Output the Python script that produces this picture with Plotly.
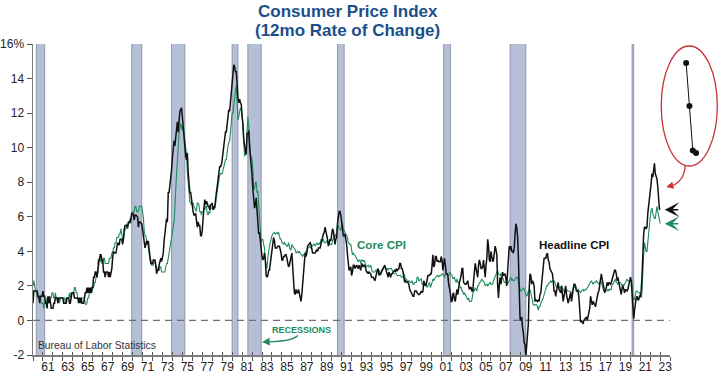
import plotly.graph_objects as go

# ---------------- data (monthly, Jan 1960 .. Jan 2023) ----------------
start_year = 1960

headline_cpi = [
    1.0, 1.7, 1.7, 1.7, 1.7, 1.7, 1.4, 1.4, 1.0, 1.4, 1.4, 1.4,   # 1960
    1.7, 1.4, 1.4, 1.0, 1.0, 0.7, 1.4, 1.0, 1.4, 1.0, 0.7, 0.7,   # 1961
    0.7, 1.0, 1.0, 1.3, 1.3, 1.3, 1.0, 1.3, 1.3, 1.3, 1.3, 1.3,   # 1962
    1.3, 1.0, 1.0, 1.0, 1.0, 1.3, 1.3, 1.3, 1.0, 1.0, 1.3, 1.6,   # 1963
    1.6, 1.6, 1.3, 1.3, 1.3, 1.3, 1.3, 1.0, 1.3, 1.0, 1.3, 1.0,   # 1964
    1.0, 1.0, 1.3, 1.6, 1.6, 1.9, 1.6, 1.9, 1.6, 1.9, 1.6, 1.9,   # 1965
    1.9, 2.5, 2.5, 2.8, 2.8, 2.5, 2.8, 3.5, 3.5, 3.8, 3.8, 3.5,   # 1966
    3.5, 2.8, 2.8, 2.5, 2.8, 2.8, 2.8, 2.5, 2.8, 2.5, 2.7, 3.0,   # 1967
    3.6, 4.0, 3.9, 3.9, 3.9, 4.2, 4.5, 4.4, 4.4, 4.7, 4.7, 4.7,   # 1968
    4.4, 4.7, 5.3, 5.5, 5.5, 5.5, 5.4, 5.7, 5.7, 5.7, 5.9, 6.2,   # 1969
    6.2, 6.1, 5.8, 6.1, 6.1, 6.0, 6.0, 5.4, 5.7, 5.7, 5.6, 5.6,   # 1970
    5.3, 5.0, 4.7, 4.2, 4.4, 4.6, 4.4, 4.6, 4.1, 3.8, 3.3, 3.3,   # 1971
    3.3, 3.5, 3.5, 3.5, 3.2, 2.7, 2.9, 2.9, 3.2, 3.4, 3.6, 3.4,   # 1972
    3.6, 3.9, 4.6, 5.1, 5.5, 5.9, 5.7, 7.4, 7.4, 7.8, 8.3, 8.7,   # 1973
    9.4, 10.0, 10.4, 10.1, 10.7, 10.9, 11.5, 10.9, 11.9, 12.1, 12.2, 12.3,  # 1974
    11.8, 11.2, 10.3, 10.2, 9.5, 9.3, 9.7, 8.6, 7.9, 7.4, 7.4, 6.9,  # 1975
    6.7, 6.3, 6.1, 6.1, 6.2, 5.9, 5.4, 5.7, 5.5, 5.5, 4.9, 4.9,   # 1976
    5.2, 5.9, 6.4, 7.0, 6.7, 6.9, 6.8, 6.6, 6.6, 6.4, 6.7, 6.7,   # 1977
    6.8, 6.4, 6.6, 6.5, 7.0, 7.4, 7.7, 7.9, 8.3, 8.9, 8.9, 9.0,   # 1978
    9.3, 9.9, 10.1, 10.5, 10.9, 10.9, 11.3, 11.8, 12.2, 12.1, 12.6, 13.3,  # 1979
    13.9, 14.2, 14.8, 14.7, 14.4, 14.4, 13.1, 12.9, 12.6, 12.8, 12.6, 12.5,  # 1980
    11.8, 11.4, 10.5, 10.0, 9.8, 9.6, 10.8, 10.8, 11.0, 10.1, 9.6, 8.9,  # 1981
    8.4, 7.6, 6.8, 6.5, 6.7, 7.1, 6.4, 5.9, 5.0, 5.1, 4.6, 3.8,   # 1982
    3.7, 3.5, 3.6, 3.9, 3.5, 2.6, 2.5, 2.6, 2.9, 2.9, 3.3, 3.8,   # 1983
    4.2, 4.6, 4.8, 4.6, 4.2, 4.2, 4.2, 4.3, 4.3, 4.3, 4.1, 3.9,   # 1984
    3.5, 3.5, 3.7, 3.7, 3.8, 3.8, 3.6, 3.3, 3.1, 3.2, 3.5, 3.8,   # 1985
    3.9, 3.1, 2.3, 1.6, 1.5, 1.8, 1.6, 1.6, 1.8, 1.5, 1.3, 1.1,   # 1986
    1.5, 2.1, 3.0, 3.8, 3.9, 3.7, 3.9, 4.3, 4.4, 4.5, 4.5, 4.4,   # 1987
    4.0, 3.9, 3.9, 3.9, 3.9, 4.0, 4.1, 4.0, 4.2, 4.2, 4.2, 4.4,   # 1988
    4.7, 4.8, 5.0, 5.1, 5.4, 5.2, 5.0, 4.7, 4.3, 4.5, 4.7, 4.6,   # 1989
    5.2, 5.3, 5.2, 4.7, 4.4, 4.7, 4.8, 5.6, 6.2, 6.3, 6.3, 6.1,   # 1990
    5.7, 5.3, 4.9, 4.9, 5.0, 4.7, 4.4, 3.8, 3.4, 2.9, 3.0, 3.1,   # 1991
    2.6, 2.8, 3.2, 3.2, 3.0, 3.1, 3.2, 3.1, 3.0, 3.2, 3.0, 2.9,   # 1992
    3.3, 3.2, 3.1, 3.2, 3.2, 3.0, 2.8, 2.8, 2.7, 2.8, 2.7, 2.7,   # 1993
    2.5, 2.5, 2.5, 2.4, 2.3, 2.5, 2.8, 2.9, 3.0, 2.6, 2.7, 2.7,   # 1994
    2.8, 2.9, 2.9, 3.1, 3.2, 3.0, 2.8, 2.6, 2.5, 2.8, 2.6, 2.5,   # 1995
    2.7, 2.7, 2.8, 2.9, 2.9, 2.8, 3.0, 2.9, 3.0, 3.0, 3.3, 3.3,   # 1996
    3.0, 3.0, 2.8, 2.5, 2.2, 2.3, 2.2, 2.2, 2.2, 2.1, 1.8, 1.7,   # 1997
    1.6, 1.4, 1.4, 1.4, 1.7, 1.7, 1.7, 1.6, 1.5, 1.5, 1.5, 1.6,   # 1998
    1.7, 1.6, 1.7, 2.3, 2.1, 2.0, 2.1, 2.3, 2.6, 2.6, 2.6, 2.7,   # 1999
    2.7, 3.2, 3.8, 3.1, 3.2, 3.7, 3.7, 3.4, 3.5, 3.4, 3.4, 3.4,   # 2000
    3.7, 3.5, 2.9, 3.3, 3.6, 3.2, 2.7, 2.7, 2.6, 2.1, 1.9, 1.6,   # 2001
    1.1, 1.1, 1.5, 1.6, 1.2, 1.1, 1.5, 1.8, 1.5, 2.0, 2.2, 2.4,   # 2002
    2.6, 3.0, 3.0, 2.2, 2.1, 2.1, 2.1, 2.2, 2.3, 2.0, 1.8, 1.9,   # 2003
    1.9, 1.7, 1.7, 2.3, 3.1, 3.3, 3.0, 2.7, 2.5, 3.2, 3.5, 3.3,   # 2004
    3.0, 3.0, 3.1, 3.5, 2.8, 2.5, 3.2, 3.6, 4.7, 4.3, 3.5, 3.4,   # 2005
    4.0, 3.6, 3.4, 3.5, 4.2, 4.3, 4.1, 3.8, 2.1, 1.3, 2.0, 2.5,   # 2006
    2.1, 2.4, 2.8, 2.6, 2.7, 2.7, 2.4, 2.0, 2.8, 3.5, 4.3, 4.1,   # 2007
    4.3, 4.0, 4.0, 3.9, 4.2, 5.0, 5.6, 5.4, 4.9, 3.7, 1.1, 0.1,   # 2008
    0.0, 0.2, -0.4, -0.7, -1.3, -1.4, -2.1, -1.5, -1.3, -0.2, 1.8, 2.7,  # 2009
    2.6, 2.1, 2.3, 2.2, 2.0, 1.1, 1.2, 1.1, 1.1, 1.2, 1.1, 1.5,   # 2010
    1.6, 2.1, 2.7, 3.2, 3.6, 3.6, 3.6, 3.8, 3.9, 3.5, 3.4, 3.0,   # 2011
    2.9, 2.9, 2.7, 2.3, 1.7, 1.7, 1.4, 1.7, 2.0, 2.2, 1.8, 1.7,   # 2012
    1.6, 2.0, 1.5, 1.1, 1.4, 1.8, 2.0, 1.5, 1.2, 1.0, 1.2, 1.5,   # 2013
    1.6, 1.1, 1.5, 2.0, 2.1, 2.1, 2.0, 1.7, 1.7, 1.7, 1.3, 0.8,   # 2014
    -0.1, 0.0, -0.1, -0.2, 0.0, 0.1, 0.2, 0.2, 0.0, 0.2, 0.5, 0.7,  # 2015
    1.4, 1.0, 0.9, 1.1, 1.0, 1.0, 0.8, 1.1, 1.5, 1.6, 1.7, 2.1,   # 2016
    2.5, 2.7, 2.4, 2.2, 1.9, 1.6, 1.7, 1.9, 2.2, 2.0, 2.2, 2.1,   # 2017
    2.1, 2.2, 2.4, 2.5, 2.8, 2.9, 2.9, 2.7, 2.3, 2.5, 2.2, 1.9,   # 2018
    1.6, 1.5, 1.9, 2.0, 1.8, 1.6, 1.8, 1.7, 1.7, 1.8, 2.1, 2.3,   # 2019
    2.5, 2.3, 1.5, 0.3, 0.1, 0.6, 1.0, 1.3, 1.4, 1.2, 1.2, 1.4,   # 2020
    1.4, 1.7, 2.6, 4.2, 5.0, 5.4, 5.4, 5.3, 5.4, 6.2, 6.8, 7.0,   # 2021
    7.5, 7.9, 8.5, 8.3, 8.6, 9.1, 8.5, 8.3, 8.2, 7.75, 7.11, 6.45,  # 2022
    6.41,                                                        # 2023
]

core_cpi = [
    2.0, 2.3, 2.0, 1.7, 1.7, 1.3, 1.3, 1.3, 1.3, 1.3, 1.0, 1.0,   # 1960
    1.0, 0.7, 1.0, 1.0, 1.0, 1.3, 1.3, 1.0, 1.3, 1.3, 1.3, 1.6,   # 1961
    1.6, 1.3, 1.3, 1.6, 1.3, 1.3, 1.0, 1.3, 1.0, 1.3, 1.3, 1.3,   # 1962
    1.3, 1.3, 1.3, 1.0, 1.3, 1.3, 1.3, 1.3, 1.6, 1.3, 1.6, 1.6,   # 1963
    1.6, 1.6, 1.9, 1.9, 1.6, 1.6, 1.3, 1.3, 1.3, 1.3, 1.3, 1.3,   # 1964
    1.3, 1.3, 1.3, 1.0, 0.9, 1.0, 1.3, 1.3, 1.6, 1.6, 1.6, 1.6,   # 1965
    1.9, 1.9, 2.2, 2.2, 2.5, 2.5, 2.8, 3.1, 3.4, 3.4, 3.6, 3.3,   # 1966
    3.3, 3.6, 3.6, 3.3, 3.3, 3.3, 3.3, 3.3, 3.6, 3.6, 3.6, 3.9,   # 1967
    3.9, 4.2, 4.2, 4.5, 4.5, 4.8, 4.8, 4.8, 5.0, 5.0, 5.3, 5.0,   # 1968
    4.7, 4.7, 5.0, 5.3, 5.3, 5.6, 5.3, 5.6, 5.6, 5.9, 5.6, 6.1,   # 1969
    6.1, 6.3, 6.3, 6.6, 6.6, 6.3, 6.3, 6.3, 6.6, 6.6, 6.6, 6.6,   # 1970
    6.3, 6.0, 5.2, 4.9, 4.9, 4.6, 4.6, 4.3, 3.8, 3.5, 3.5, 3.2,   # 1971
    3.2, 3.2, 3.4, 3.4, 3.1, 3.1, 2.9, 2.9, 2.9, 3.1, 3.1, 2.8,   # 1972
    2.8, 2.8, 2.8, 2.8, 3.1, 3.3, 3.3, 3.6, 3.8, 4.1, 4.3, 4.6,   # 1973
    5.0, 5.3, 5.7, 6.5, 7.8, 8.5, 9.2, 10.3, 10.8, 11.1, 11.4, 11.2,  # 1974
    11.0, 11.3, 10.9, 10.4, 9.9, 9.6, 8.6, 7.8, 7.3, 6.9, 6.8, 6.7,  # 1975
    6.8, 6.8, 6.6, 6.5, 6.4, 6.3, 6.8, 6.8, 6.7, 6.3, 6.3, 6.1,   # 1976
    6.3, 6.3, 6.5, 6.4, 6.6, 6.6, 6.2, 6.1, 6.3, 6.2, 6.5, 6.5,   # 1977
    6.5, 6.5, 6.4, 6.6, 6.7, 7.1, 7.5, 7.8, 8.0, 8.4, 8.5, 8.5,   # 1978
    8.5, 8.7, 8.9, 9.1, 9.3, 9.3, 9.8, 10.1, 10.3, 10.4, 10.9, 11.3,  # 1979
    12.0, 12.0, 12.6, 12.9, 13.3, 13.6, 12.3, 11.6, 11.8, 12.2, 12.3, 12.2,  # 1980
    11.9, 11.2, 10.0, 9.5, 9.6, 9.8, 11.0, 11.8, 11.3, 10.3, 9.5, 9.5,  # 1981
    9.3, 8.8, 7.6, 7.6, 8.0, 8.0, 7.4, 7.5, 6.3, 5.9, 5.3, 4.5,   # 1982
    4.7, 4.7, 4.4, 4.2, 3.5, 3.3, 3.0, 3.6, 4.1, 4.3, 4.5, 4.8,   # 1983
    4.9, 5.0, 5.1, 5.1, 5.0, 5.1, 5.1, 5.0, 5.1, 4.9, 4.7, 4.7,   # 1984
    4.5, 4.5, 4.4, 4.5, 4.4, 4.4, 4.3, 4.3, 4.5, 4.3, 4.1, 4.1,   # 1985
    4.4, 4.3, 4.2, 4.1, 4.1, 3.9, 4.0, 4.0, 3.9, 4.0, 3.9, 3.8,   # 1986
    3.8, 3.7, 3.8, 3.9, 4.0, 4.0, 4.0, 4.2, 4.2, 4.3, 4.3, 4.2,   # 1987
    4.3, 4.4, 4.4, 4.4, 4.3, 4.4, 4.5, 4.4, 4.4, 4.5, 4.4, 4.7,   # 1988
    4.6, 4.6, 4.7, 4.5, 4.5, 4.5, 4.6, 4.5, 4.4, 4.4, 4.4, 4.4,   # 1989
    4.4, 4.6, 4.8, 4.9, 4.8, 5.0, 5.0, 5.5, 5.5, 5.3, 5.3, 5.2,   # 1990
    5.6, 5.6, 5.3, 5.2, 5.2, 5.0, 4.9, 4.8, 4.5, 4.4, 4.4, 4.4,   # 1991
    3.9, 3.8, 3.9, 3.8, 3.7, 3.7, 3.6, 3.5, 3.4, 3.5, 3.5, 3.3,   # 1992
    3.5, 3.5, 3.4, 3.5, 3.3, 3.2, 3.1, 3.2, 3.2, 3.1, 3.1, 3.2,   # 1993
    2.9, 2.8, 2.8, 2.8, 2.8, 2.9, 2.9, 2.9, 2.8, 2.9, 2.8, 2.6,   # 1994
    2.9, 3.0, 3.0, 3.1, 3.1, 3.0, 3.0, 3.0, 2.9, 3.0, 3.0, 3.0,   # 1995
    3.0, 2.9, 2.8, 2.7, 2.7, 2.7, 2.7, 2.6, 2.6, 2.6, 2.6, 2.6,   # 1996
    2.5, 2.5, 2.5, 2.7, 2.5, 2.4, 2.4, 2.3, 2.2, 2.3, 2.2, 2.2,   # 1997
    2.2, 2.3, 2.1, 2.1, 2.2, 2.2, 2.2, 2.5, 2.5, 2.3, 2.3, 2.4,   # 1998
    2.4, 2.1, 2.1, 2.2, 2.0, 2.1, 2.1, 1.9, 2.0, 2.1, 2.2, 1.9,   # 1999
    2.0, 2.2, 2.4, 2.3, 2.4, 2.5, 2.5, 2.6, 2.6, 2.5, 2.6, 2.6,   # 2000
    2.6, 2.7, 2.7, 2.6, 2.5, 2.7, 2.7, 2.7, 2.6, 2.6, 2.8, 2.7,   # 2001
    2.6, 2.6, 2.4, 2.5, 2.5, 2.3, 2.2, 2.4, 2.2, 2.2, 2.0, 1.9,   # 2002
    1.9, 1.7, 1.7, 1.5, 1.6, 1.5, 1.5, 1.3, 1.2, 1.3, 1.1, 1.1,   # 2003
    1.1, 1.2, 1.6, 1.8, 1.7, 1.9, 1.8, 1.7, 2.0, 2.0, 2.2, 2.2,   # 2004
    2.3, 2.4, 2.3, 2.2, 2.2, 2.0, 2.1, 2.1, 2.0, 2.1, 2.1, 2.2,   # 2005
    2.1, 2.1, 2.1, 2.3, 2.4, 2.6, 2.7, 2.8, 2.9, 2.7, 2.6, 2.6,   # 2006
    2.7, 2.7, 2.5, 2.3, 2.2, 2.2, 2.2, 2.1, 2.1, 2.2, 2.3, 2.4,   # 2007
    2.5, 2.3, 2.4, 2.3, 2.3, 2.4, 2.5, 2.5, 2.5, 2.2, 2.0, 1.8,   # 2008
    1.7, 1.8, 1.8, 1.9, 1.8, 1.7, 1.5, 1.4, 1.5, 1.7, 1.7, 1.8,   # 2009
    1.6, 1.3, 1.1, 0.9, 0.9, 0.9, 0.9, 0.9, 0.8, 0.6, 0.8, 0.8,   # 2010
    1.0, 1.1, 1.2, 1.3, 1.5, 1.6, 1.8, 2.0, 2.0, 2.1, 2.2, 2.2,   # 2011
    2.3, 2.2, 2.3, 2.3, 2.3, 2.2, 2.1, 1.9, 2.0, 2.0, 1.9, 1.9,   # 2012
    1.9, 2.0, 1.9, 1.7, 1.7, 1.6, 1.7, 1.8, 1.7, 1.7, 1.7, 1.7,   # 2013
    1.6, 1.6, 1.7, 1.8, 2.0, 1.9, 1.9, 1.7, 1.7, 1.8, 1.7, 1.6,   # 2014
    1.6, 1.7, 1.8, 1.8, 1.7, 1.8, 1.8, 1.8, 1.9, 1.9, 2.0, 2.1,   # 2015
    2.2, 2.3, 2.2, 2.1, 2.2, 2.2, 2.2, 2.3, 2.2, 2.1, 2.1, 2.2,   # 2016
    2.3, 2.2, 2.0, 1.9, 1.7, 1.7, 1.7, 1.7, 1.7, 1.8, 1.7, 1.8,   # 2017
    1.8, 1.8, 2.1, 2.1, 2.2, 2.3, 2.4, 2.2, 2.2, 2.1, 2.2, 2.2,   # 2018
    2.2, 2.1, 2.0, 2.1, 2.0, 2.1, 2.2, 2.4, 2.4, 2.3, 2.3, 2.3,   # 2019
    2.3, 2.4, 2.1, 1.4, 1.2, 1.2, 1.6, 1.7, 1.7, 1.6, 1.6, 1.6,   # 2020
    1.4, 1.3, 1.6, 3.0, 3.8, 4.5, 4.3, 4.0, 4.0, 4.6, 4.9, 5.5,   # 2021
    6.0, 6.4, 6.5, 6.2, 6.0, 5.9, 5.9, 6.3, 6.6, 6.3, 6.0, 5.7,   # 2022
    5.6,                                                         # 2023
]

recession_start = [1960.33, 1969.92, 1973.92, 1980.00, 1981.58, 1990.58, 2001.25, 2007.92, 2020.17]
recession_end   = [1961.17, 1970.92, 1975.25, 1980.58, 1982.92, 1991.25, 2001.92, 2009.50, 2020.33]

x_min, x_max = 1960, 2024
y_ticks = [-2, 0, 2, 4, 6, 8, 10, 12, 14, 16]
y_ticktext = ["-2", "0", "2", "4", "6", "8", "10", "12", "14", "16%"]
label_years = list(range(1961, 2024, 2))
x_ticktext = [f"{y % 100:02d}" for y in label_years]
inset_count = 4  # last months shown in the inset

# ---------------- geometry helpers (layout only) ----------------
W, H = 720, 374
ML, MT, MB = 32, 44, 19
PW, PH = W - ML, H - MT - MB


def px(x):   # page pixel x -> paper fraction
    return (x - ML) / PW


def py(y):   # page pixel y -> paper fraction
    return (H - MB - y) / PH


months_h = [start_year + i / 12 for i in range(len(headline_cpi))]
months_c = [start_year + i / 12 for i in range(len(core_cpi))]

BLUE = "#1b4f8a"
GREEN = "#1f8c5c"
RED = "#c8323c"
FONT = "Liberation Sans, Arial, Helvetica, sans-serif"

fig = go.Figure()
fig.add_trace(go.Scatter(x=months_c, y=core_cpi, mode="lines",
                         line=dict(color=GREEN, width=1.1), hoverinfo="skip", showlegend=False))
fig.add_trace(go.Scatter(x=months_h, y=headline_cpi, mode="lines",
                         line=dict(color="#111111", width=1.5), hoverinfo="skip", showlegend=False))
# dummy trace for overlay tick axis
fig.add_trace(go.Scatter(x=[None], y=[None], xaxis="x4", yaxis="y", showlegend=False, hoverinfo="skip"))
# inset: last few headline readings
fig.add_trace(go.Scatter(x=list(range(inset_count)), y=headline_cpi[-inset_count:],
                         mode="lines+markers", xaxis="x3", yaxis="y3",
                         line=dict(color="#111111", width=1),
                         marker=dict(color="#111111", size=6), showlegend=False, hoverinfo="skip"))

shapes = []
for s, e in zip(recession_start, recession_end):
    shapes.append(dict(type="rect", xref="x", yref="paper", x0=s, x1=e, y0=0, y1=1,
                       fillcolor="#b5c0d7", line=dict(width=0), layer="below"))
    for xv in (s, e):
        shapes.append(dict(type="line", xref="x", yref="paper", x0=xv, x1=xv, y0=0, y1=1,
                           line=dict(color="#8e97ab", width=1), layer="below"))
shapes.append(dict(type="line", xref="x", yref="y", x0=x_min, x1=x_max, y0=0, y1=0,
                   line=dict(color="#707070", width=1.3, dash="7px,5px"), layer="below"))
# inset ellipse
shapes.append(dict(type="circle", xref="paper", yref="paper",
                   x0=px(663), x1=px(719.3), y0=py(166), y1=py(46),
                   line=dict(color=RED, width=1.3)))
# red curved pointer
shapes.append(dict(type="path", xref="paper", yref="paper",
                   path=f"M {px(687)},{py(166)} Q {px(686)},{py(182)} {px(672)},{py(186.5)}",
                   line=dict(color=RED, width=1.3)))
# green curved pointer for recessions label
shapes.append(dict(type="path", xref="paper", yref="paper",
                   path=f"M {px(298)},{py(335.5)} Q {px(292)},{py(341.5)} {px(268)},{py(341.8)}",
                   line=dict(color=GREEN, width=1.3)))

annotations = [
    dict(text="<b>Consumer Price Index</b>", xref="paper", yref="paper", x=px(348), y=py(11.5),
         xanchor="center", yanchor="middle", showarrow=False, font=dict(size=17, color=BLUE, family=FONT)),
    dict(text="<b>(12mo Rate of Change)</b>", xref="paper", yref="paper", x=px(348), y=py(31),
         xanchor="center", yanchor="middle", showarrow=False, font=dict(size=17, color=BLUE, family=FONT)),
    dict(text="<b>Core CPI</b>", xref="paper", yref="paper", x=px(355), y=py(244.5),
         xanchor="left", yanchor="middle", showarrow=False, font=dict(size=11.6, color=GREEN, family=FONT)),
    dict(text="<b>Headline CPI</b>", xref="paper", yref="paper", x=px(538), y=py(244.5),
         xanchor="left", yanchor="middle", showarrow=False, font=dict(size=11.5, color="#111111", family=FONT)),
    dict(text="<b>RECESSIONS</b>", xref="paper", yref="paper", x=px(270), y=py(329.5),
         xanchor="left", yanchor="middle", showarrow=False, font=dict(size=9, color=GREEN, family=FONT)),
    dict(text="Bureau of Labor Statistics", xref="paper", yref="paper", x=px(35.5), y=py(345.5),
         xanchor="left", yanchor="middle", showarrow=False, font=dict(size=10.3, color="#333333", family=FONT)),
    # arrowheads
    dict(text="", xref="paper", yref="paper", x=px(262), y=py(342), ax=8, ay=-0.3,
         showarrow=True, arrowhead=2, arrowsize=1.1, arrowwidth=1.4, arrowcolor=GREEN, standoff=0),
    dict(text="", xref="paper", yref="paper", x=px(668), y=py(187), ax=6, ay=-1.5,
         showarrow=True, arrowhead=2, arrowsize=1.1, arrowwidth=1.3, arrowcolor=RED, standoff=0),
    dict(text="", xref="x", yref="y", x=months_h[-1] + 0.45, y=headline_cpi[-1], ax=15, ay=0,
         showarrow=True, arrowhead=3, arrowsize=1.75, arrowwidth=1.4, arrowcolor="#111111", standoff=0),
    dict(text="", xref="x", yref="y", x=months_c[-1] + 0.45, y=core_cpi[-1], ax=15, ay=0,
         showarrow=True, arrowhead=3, arrowsize=1.75, arrowwidth=1.4, arrowcolor=GREEN, standoff=0),
]

axis_color = "#7d7d7d"
fig.update_layout(
    width=W, height=H,
    margin=dict(l=ML, r=0, t=MT, b=MB, pad=0),
    paper_bgcolor="white", plot_bgcolor="white",
    font=dict(family=FONT, color="#222222", size=12),
    shapes=shapes, annotations=annotations,
    xaxis=dict(domain=[0, px(672)], range=[x_min, x_max], anchor="y",
               showline=True, linecolor=axis_color, linewidth=1.5,
               tickvals=[y + 0.5 for y in label_years], ticktext=x_ticktext, ticks="",
               tickfont=dict(size=12, color="#222222"),
               minor=dict(tickvals=list(range(x_min, x_max + 1)), ticks="outside", ticklen=4,
                          tickcolor="#555555", tickwidth=1, showgrid=False),
               showgrid=False, zeroline=False),
    xaxis4=dict(overlaying="x", range=[x_min, x_max], anchor="y",
                tickvals=list(range(x_min, x_max + 1)), ticks="inside", ticklen=3,
                tickcolor="#555555", tickwidth=1, showticklabels=False,
                showline=False, showgrid=False, zeroline=False),
    yaxis=dict(domain=[0, 1], range=[-2, 16], anchor="x",
               tickvals=y_ticks, ticktext=y_ticktext, ticks="outside", ticklen=5,
               tickcolor="#555555", tickwidth=1,
               showline=True, linecolor=axis_color, linewidth=1.5,
               tickfont=dict(size=12, color="#222222"),
               showgrid=False, zeroline=False),
    xaxis3=dict(domain=[px(683), px(703)], range=[-1.5, 4.5], anchor="y3", visible=False),
    yaxis3=dict(domain=[py(168.4), 1.0], range=[6.182, 8.033], anchor="x3", visible=False),
)

# remove the browser's default 8px body margin so the figure sits at the page origin
fig.write_html("out.html",
               config={"displayModeBar": False, "staticPlot": True},
               post_script="document.body.style.margin='0';document.body.style.overflow='hidden';")
